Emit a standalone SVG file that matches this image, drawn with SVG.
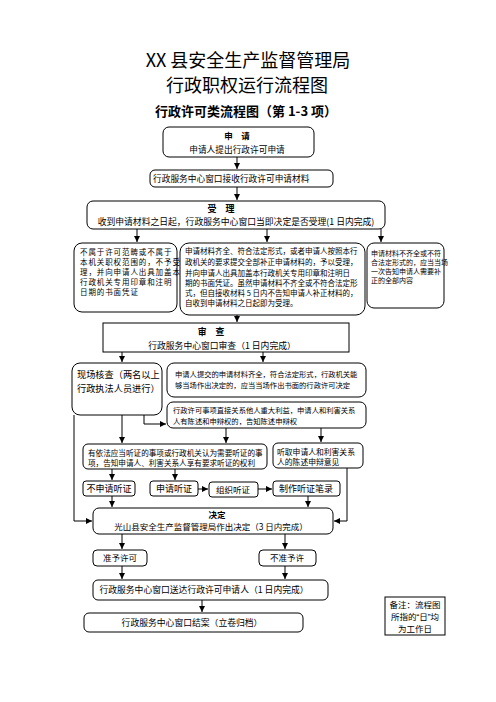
<svg xmlns="http://www.w3.org/2000/svg" width="496" height="702" viewBox="0 0 496 702">
<style>
text{font-family:"Noto Sans CJK SC","Noto Sans",sans-serif;fill:#000}
.b{fill:#fff;stroke:#000;stroke-width:1}
.m{text-anchor:middle}
.h{font-weight:bold}
.q{font-family:"Liberation Sans",sans-serif}
.c path{stroke:#000;stroke-width:1;fill:none;marker-end:url(#a)}
</style>
<defs>
<marker id="a" markerUnits="userSpaceOnUse" markerWidth="6" markerHeight="6" refX="6" refY="3" orient="auto"><path d="M0,0L6,3L0,6z" fill="#000"/></marker>
</defs>
<rect width="496" height="702" fill="#fff"/>
<g id="title">
<text class="m" x="248" y="67" font-size="18">XX 县安全生产监督管理局</text>
<text class="m" x="247" y="92" font-size="18">行政职权运行流程图</text>
<text class="m h" x="246" y="116" font-size="13">行政许可类流程图（第 1-3 项）</text>
</g>
<g class="c">
<path d="M237,157V169"/>
<path d="M237,187V200"/>
<path d="M137,229V242"/>
<path d="M267,229V242"/>
<path d="M381,229V242"/>
<path d="M237,315V322"/>
<path d="M122,352V362"/>
<path d="M263,352V362"/>
<path d="M144,415V424H166"/>
<path d="M122,415V443"/>
<path d="M74,415V521H92"/>
<path d="M226,428V443"/>
<path d="M321,428V442"/>
<path d="M112,469V480"/>
<path d="M175,469V480"/>
<path d="M198,489H208"/>
<path d="M258,489H272"/>
<path d="M112,496V507"/>
<path d="M308,496V507"/>
<path d="M347,468V521H334"/>
<path d="M122,534V549"/>
<path d="M285,534V549"/>
<path d="M122,566V579"/>
<path d="M285,566V579"/>
<path d="M202,600V612"/>
</g>
<g id="n1">
<rect class="b" x="163" y="127" width="151" height="30" rx="6"/>
<text class="m h" x="237" y="139" font-size="8.5">申　请</text>
<text class="m" x="237" y="152.5" font-size="8.7">申请人提出行政许可申请</text>
</g>
<g id="n2">
<rect class="b" x="150" y="170" width="183" height="17" rx="5"/>
<text x="153" y="182" font-size="8.7">行政服务中心窗口接收行政许可申请材料</text>
</g>
<g id="n3">
<rect class="b" x="87" y="201" width="298" height="28" rx="6"/>
<text class="m h" x="221" y="211.5" font-size="9">受　理</text>
<text class="m" x="236" y="224.5" font-size="8.8">收到申请材料之日起，行政服务中心窗口当即决定是否受理(1 日内完成)</text>
</g>
<g id="n4">
<rect class="b" x="74" y="243" width="103" height="69" rx="8"/>
<g font-size="7.5" letter-spacing="0.9">
<text x="80" y="255">不属于许可范畴或不属于</text>
<text x="80" y="265">本机关职权范围的，不予受</text>
<text x="80" y="275">理，并向申请人出具加盖本</text>
<text x="80" y="285">行政机关专用印章和注明</text>
<text x="80" y="295">日期的书面凭证</text>
</g>
</g>
<g id="n5">
<rect class="b" x="180" y="243" width="185" height="72" rx="9"/>
<g font-size="7.5">
<text x="185" y="254">申请材料齐全、符合法定形式，或者申请人按照本行</text>
<text x="185" y="265">政机关的要求提交全部补正申请材料的，予以受理，</text>
<text x="185" y="276">并向申请人出具加盖本行政机关专用印章和注明日</text>
<text x="185" y="286">期的书面凭证。虽然申请材料不齐全或不符合法定形</text>
<text x="185" y="296">式，但自接收材料 5 日内不告知申请人补正材料的，</text>
<text x="185" y="306">自收到申请材料之日起即为受理。</text>
</g>
</g>
<g id="n6">
<rect class="b" x="367" y="243" width="77" height="65" rx="7"/>
<g font-size="7">
<text x="371" y="256">申请材料不齐全或不符</text>
<text x="371" y="265">合法定形式的，应当当场</text>
<text x="371" y="274">一次告知申请人需要补</text>
<text x="371" y="283">正的全部内容</text>
</g>
</g>
<g id="n7">
<rect class="b" x="103" y="323" width="246" height="29"/>
<text class="m h" x="211" y="335" font-size="8.8">审　查</text>
<text class="m" x="222" y="348.5" font-size="8.8">行政服务中心窗口审查（1 日内完成）</text>
</g>
<g id="n8">
<rect class="b" x="72" y="363" width="90" height="52" rx="8"/>
<text x="77" y="378" font-size="9.2">现场核查（两名以上</text>
<text x="77" y="392" font-size="9.2">行政执法人员进行）</text>
</g>
<g id="n9">
<rect class="b" x="167" y="363" width="199" height="34" rx="7"/>
<text x="175" y="377" font-size="7.3">申请人提交的申请材料齐全，符合法定形式，行政机关能</text>
<text x="175" y="388" font-size="7.3">够当场作出决定的，应当当场作出书面的行政许可决定</text>
</g>
<g id="n10">
<rect class="b" x="167" y="402" width="199" height="26" rx="6"/>
<text x="173" y="413" font-size="7.3">行政许可事项直接关系他人重大利益，申请人和利害关系</text>
<text x="173" y="424" font-size="7.3">人有陈述和申辩权的，告知陈述申辩权</text>
</g>
<g id="n11">
<rect class="b" x="83" y="444" width="184" height="25" rx="5"/>
<text x="88" y="456" font-size="7.6">有依法应当听证的事项或行政机关认为需要听证的事</text>
<text x="88" y="466" font-size="7.6">项，告知申请人、利害关系人享有要求听证的权利</text>
</g>
<g id="n12">
<rect class="b" x="273" y="443" width="90" height="25" rx="5"/>
<text x="277" y="455" font-size="7.8">听取申请人和利害关系</text>
<text x="277" y="465" font-size="7.8">人的陈述申辩意见</text>
</g>
<g id="n13">
<rect class="b" x="83" y="481" width="52" height="15" rx="3"/>
<text class="m" x="109" y="492" font-size="9">不申请听证</text>
</g>
<g id="n14">
<rect class="b" x="150" y="481" width="48" height="15" rx="3"/>
<text class="m" x="174" y="492" font-size="9">申请听证</text>
</g>
<g id="n15">
<rect class="b" x="209" y="482" width="49" height="15" rx="3"/>
<text class="m" x="233" y="493" font-size="8.5">组织听证</text>
</g>
<g id="n16">
<rect class="b" x="273" y="481" width="67" height="15" rx="3"/>
<text class="m" x="306" y="492" font-size="9">制作听证笔录</text>
</g>
<g id="n17">
<rect class="b" x="93" y="508" width="240" height="26" rx="6"/>
<text class="m h" x="217" y="517.5" font-size="8.5">决定</text>
<text class="m" x="211" y="530" font-size="8.5">光山县安全生产监督管理局作出决定（3 日内完成）</text>
</g>
<g id="n18">
<rect class="b" x="93" y="550" width="54" height="16" rx="4"/>
<text class="m" x="120" y="561" font-size="8.5">准予许可</text>
</g>
<g id="n19">
<rect class="b" x="259" y="550" width="57" height="16" rx="4"/>
<text class="m" x="287" y="561" font-size="8.5">不准予许</text>
</g>
<g id="n20">
<rect class="b" x="93" y="580" width="235" height="20" rx="5"/>
<text class="m" x="204" y="593" font-size="8.8">行政服务中心窗口送达行政许可申请人（1 日内完成）</text>
</g>
<g id="n21">
<rect class="b" x="84" y="613" width="219" height="19" rx="5"/>
<text class="m" x="192" y="626" font-size="8.8">行政服务中心窗口结案（立卷归档）</text>
</g>
<g id="n22">
<rect class="b" x="385" y="597" width="60" height="38"/>
<text class="m" x="415" y="608" font-size="8.5">备注：流程图</text>
<text class="m" x="415" y="620" font-size="8.5">所指的<tspan class="q">“</tspan>日<tspan class="q">”</tspan>均</text>
<text class="m" x="415" y="632" font-size="8.5">为工作日</text>
</g>
</svg>
